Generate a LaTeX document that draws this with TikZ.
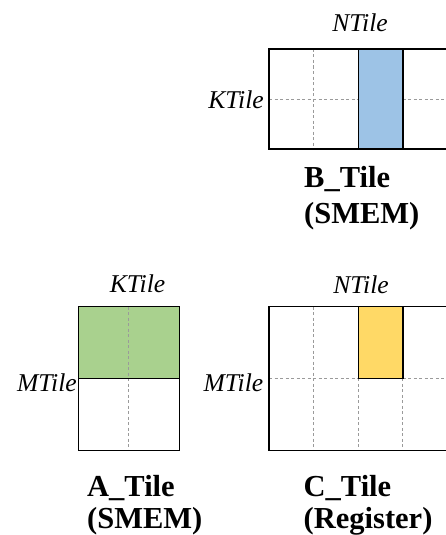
\documentclass[tikz,border=0pt]{standalone}
\usepackage{fontspec}
\setmainfont{Liberation Serif}
\definecolor{tblue}{HTML}{9DC3E6}
\definecolor{tgreen}{HTML}{A9D18E}
\definecolor{tyellow}{HTML}{FFD966}
\definecolor{dashgray}{HTML}{9A9A9A}
\begin{document}
\begin{tikzpicture}[x=1pt,y=-1pt,
  grid/.style={draw=dashgray,dashed,line width=0.9pt,dash pattern=on 3pt off 2.5pt},
  tilebox/.style={draw=black,line width=1.4pt},
  dimlbl/.style={inner sep=0pt,font=\fontsize{25.6}{30}\selectfont\itshape},
  namelbl/.style={inner sep=0pt,anchor=base west,font=\fontsize{30.5}{36}\selectfont\bfseries}]
\useasboundingbox (0,0) rectangle (446,535);
% ---- B tile
\fill[tblue] (358.2,49) rectangle (402.8,149);
\draw[grid] (313.6,49) -- (313.6,149);
\draw[grid] (269,99.3) -- (358.2,99.3);
\draw[grid] (402.8,99.3) -- (447.4,99.3);
\draw[tilebox] (358.2,49) -- (358.2,149) (402.8,49) -- (402.8,149);
\draw[tilebox] (269,49) rectangle (447.4,149);
\node[dimlbl,anchor=base] (bn) at (360,32) {NTile};
\node[dimlbl,anchor=base east] (bk) at (264,108) {KTile};
\node[namelbl] (bt1) at (304,187) {B\_Tile};
\node[namelbl] (bt2) at (304,223) {(SMEM)};
% ---- A tile
\fill[tgreen] (78.3,306.7) rectangle (179.3,378.3);
\draw[grid] (128.8,306.7) -- (128.8,450.7);
\draw[tilebox] (78.3,378.3) -- (179.3,378.3);
\draw[tilebox] (78.3,306.7) rectangle (179.3,450.7);
\node[dimlbl,anchor=base] (ak) at (137.5,292) {KTile};
\node[dimlbl,anchor=base east] (am) at (77,391.5) {MTile};
\node[namelbl] (at1) at (87,496) {A\_Tile};
\node[namelbl] (at2) at (87,528) {(SMEM)};
% ---- C tile
\fill[tyellow] (358.2,306.7) rectangle (402.8,378.3);
\draw[grid] (313.6,306.7) -- (313.6,450.7);
\draw[grid] (358.2,378.3) -- (358.2,450.7);
\draw[grid] (402.8,378.3) -- (402.8,450.7);
\draw[grid] (269,378.3) -- (358.2,378.3);
\draw[grid] (402.8,378.3) -- (447.4,378.3);
\draw[tilebox] (358.2,306.7) rectangle (402.8,378.3);
\draw[tilebox] (269,306.7) rectangle (447.4,450.7);
\node[dimlbl,anchor=base] (cn) at (361,293) {NTile};
\node[dimlbl,anchor=base east] (cm) at (263.5,391.5) {MTile};
\node[namelbl] (ct1) at (303.5,496) {C\_Tile};
\node[namelbl] (ct2) at (303.5,528) {(Register)};
\end{tikzpicture}
\end{document}
